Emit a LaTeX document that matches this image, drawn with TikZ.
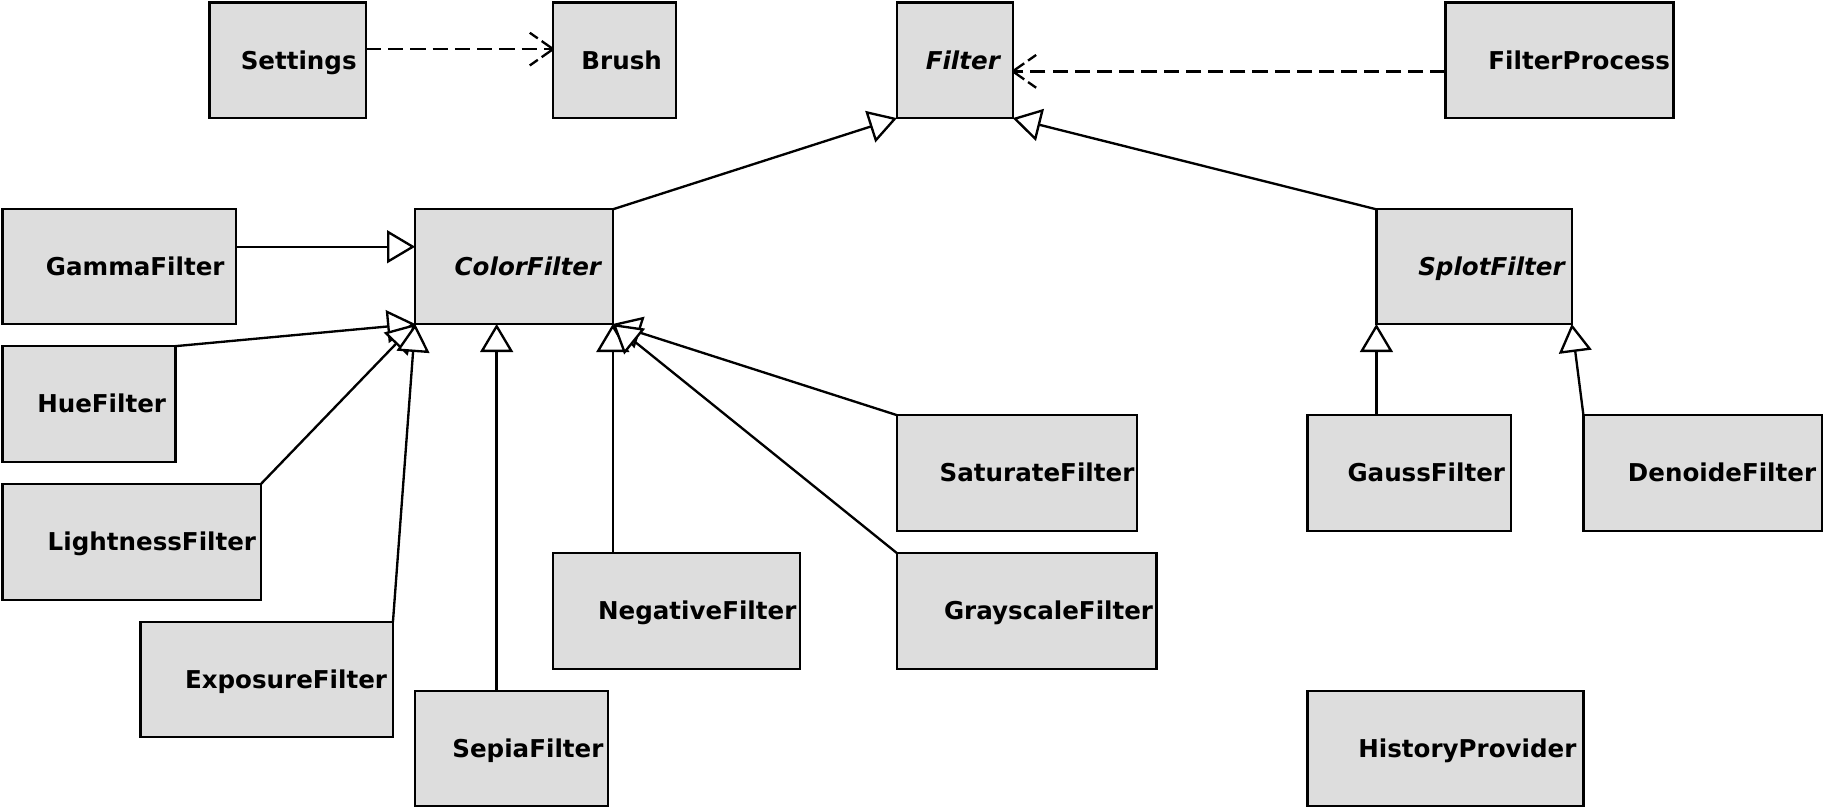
\documentclass[tikz,border=0pt]{standalone}
\usepackage{fontspec}
\setmainfont{DejaVu Sans}
\usetikzlibrary{arrows.meta,calc}
\definecolor{boxfill}{RGB}{221,221,221}
\begin{document}
\begin{tikzpicture}[x=1pt,y=-1pt,
  cls/.style={draw=black, fill=boxfill, line width=2pt, rectangle, outer sep=0pt,
    inner xsep=0pt, inner ysep=0pt, align=right,
    font=\fontsize{21pt}{25pt}\selectfont\bfseries, text height=15.3pt, text depth=0pt},
  abscls/.style={cls, font=\fontsize{21pt}{25pt}\selectfont\bfseries\itshape},
  inh/.style={line width=2pt, -{Triangle[length=24pt,width=28pt,fill=white]}},
  dep/.style={line width=2pt, dash pattern=on 13pt off 6pt},
  depv/.style={line width=2pt, dash pattern=on 12pt off 4pt on 12pt off 4pt}]
\useasboundingbox (0,0) rectangle (1564,690.1);

% row 1
\node[cls, minimum width=134pt, minimum height=99pt, text width=118pt] (settings) at (246,51.5) {Settings};
\node[cls, minimum width=105pt, minimum height=99pt, text width=81pt] (brush) at (525.5,51.5) {Brush};
\node[abscls, minimum width=99pt, minimum height=99pt, text width=77pt] (filter) at (816.5,51.5) {Filter};
\node[cls, minimum width=195pt, minimum height=99pt, text width=189pt] (fproc) at (1333.5,51.5) {FilterProcess};

% row 2
\node[cls, minimum width=200pt, minimum height=98pt, text width=180pt] (gamma) at (102,228) {GammaFilter};
\node[abscls, minimum width=169pt, minimum height=98pt, text width=149pt] (color) at (439.5,228) {ColorFilter};
\node[abscls, minimum width=167pt, minimum height=98pt, text width=155pt] (splot) at (1260.5,228) {SplotFilter};

% others
\node[cls, minimum width=148pt, minimum height=99pt, text width=132pt] (hue) at (76,345.5) {HueFilter};
\node[cls, minimum width=205pt, minimum height=99pt, text width=201pt] (saturate) at (869.5,404.5) {SaturateFilter};
\node[cls, minimum width=174pt, minimum height=99pt, text width=164pt] (gauss) at (1205,404.5) {GaussFilter};
\node[cls, minimum width=204pt, minimum height=99pt, text width=194pt] (denoide) at (1456,404.5) {DenoideFilter};
\node[cls, minimum width=221pt, minimum height=99pt, text width=213pt] (lightness) at (112.5,463.5) {LightnessFilter};
\node[cls, minimum width=211pt, minimum height=99pt, text width=205pt] (negative) at (578.5,522.5) {NegativeFilter};
\node[cls, minimum width=222pt, minimum height=99pt, text width=216pt] (grayscale) at (878,522.5) {GrayscaleFilter};
\node[cls, minimum width=216pt, minimum height=98pt, text width=206pt] (exposure) at (228,581) {ExposureFilter};
\node[cls, minimum width=165pt, minimum height=98pt, text width=157pt] (sepia) at (437.5,640) {SepiaFilter};
\node[cls, minimum width=236pt, minimum height=98pt, text width=224pt] (history) at (1236,640) {HistoryProvider};

% dependencies (dashed, open V head drawn dashed as in the reference)
\coordinate (s1) at ($(settings.north east)+(0,40)$);
\coordinate (s2) at (s1 -| brush.west);
\draw[dep] (s1) -- (s2);
\draw[depv] (s2) -- +(-20,-14) (s2) -- +(-20,14);
\coordinate (f1) at ($(fproc.north west)+(0,59)$);
\coordinate (f2) at (f1 -| filter.east);
\draw[dep] (f1) -- (f2);
\draw[depv] (f2) -- +(20,-14) (f2) -- +(20,14);

% generalisations to Filter
\draw[inh] (color.north east) -- (filter.south west);
\draw[inh] (splot.north west) -- (filter.south east);

% generalisations to ColorFilter
\coordinate (g1) at ($(gamma.north east)+(0,32)$);
\draw[inh] (g1) -- (g1 -| color.west);
\draw[inh] (hue.north east) -- (color.south west);
\draw[inh] (lightness.north east) -- (color.south west);
\draw[inh] (exposure.north east) -- (color.south west);
\coordinate (sp1) at ($(sepia.north west)+(69.7,0)$);
\draw[inh] (sp1) -- (sp1 |- color.south);
\draw[inh] (negative.north -| color.south east) -- (color.south east);
\draw[inh] (saturate.north west) -- (color.south east);
\draw[inh] (grayscale.north west) -- (color.south east);

% generalisations to SplotFilter
\draw[inh] (gauss.north -| splot.south west) -- (splot.south west);
\draw[inh] (denoide.north west) -- (splot.south east);
\end{tikzpicture}
\end{document}
